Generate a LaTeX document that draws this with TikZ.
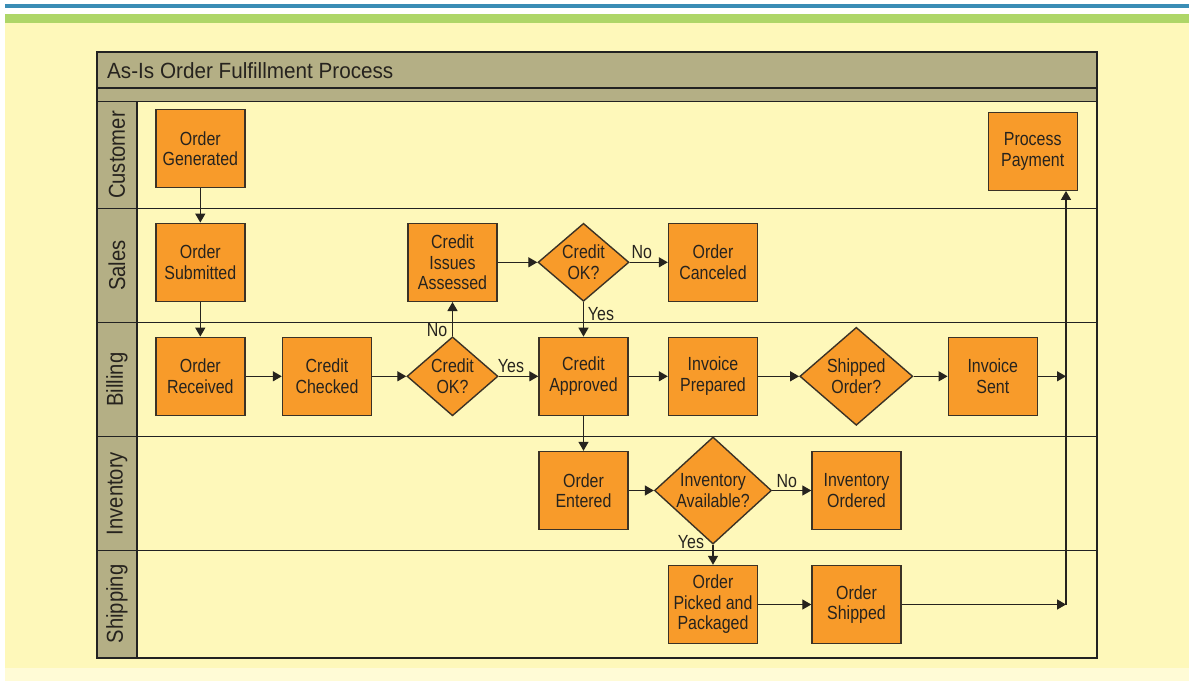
\documentclass[tikz,border=0pt]{standalone}
\usepackage{fontspec}
\setmainfont{Liberation Sans}[FakeStretch=0.84]
\newfontfamily\titlefont{Liberation Sans}[FakeStretch=0.94]
\newfontfamily\lanefont{Liberation Sans}[FakeStretch=0.88]
\usetikzlibrary{arrows.meta,shapes.geometric}

\definecolor{stripeblue}{HTML}{3A8DB5}
\definecolor{stripegreen}{HTML}{AED668}
\definecolor{paper}{HTML}{FEF8BA}
\definecolor{paperlight}{HTML}{FFFBD6}
\definecolor{olive}{HTML}{B4AF85}
\definecolor{boxfill}{HTML}{F89B2A}
\definecolor{ink}{HTML}{26231E}
\definecolor{edgeclr}{HTML}{3B3226}
\definecolor{rule}{HTML}{222222}

\tikzset{
  task/.style={draw=edgeclr, line width=1.4pt, fill=boxfill,
    minimum width=89pt, minimum height=78pt, inner sep=0pt,
    align=center, text=ink, font=\fontsize{19}{20.5}\selectfont},
  decision/.style={diamond, draw=edgeclr, line width=1.4pt, fill=boxfill,
    inner sep=0pt, align=center, text=ink, font=\fontsize{19}{20.5}\selectfont},
  flow/.style={draw=ink, line width=1.3pt, -{Triangle[length=9pt,width=10pt]}},
  branch/.style={text=ink, inner sep=0pt, font=\fontsize{19}{20.5}\selectfont},
  lanelabel/.style={rotate=90, text=ink, inner sep=0pt,
    font=\lanefont\fontsize{23}{25}\selectfont},
  lanerule/.style={draw=rule, line width=1.6pt}
}

\begin{document}
\begin{tikzpicture}[x=1pt, y=-1pt]
\useasboundingbox (0,0) rectangle (1192,681);

% page background and header stripes
\fill[white] (0,0) rectangle (1192,681);
\fill[paper] (5,22.7) rectangle (1189,668);
\fill[paperlight] (5,668) rectangle (1189,681);
\fill[stripeblue] (5,4) rectangle (1189,8.3);
\fill[stripegreen] (5,13.7) rectangle (1189,22.7);

% pool frame
\fill[olive] (97,52) rectangle (1097,101.5);
\fill[paper] (97,101.5) rectangle (1097,658);
\fill[olive] (97,101.5) rectangle (137,658);
\draw[lanerule] (97,52) rectangle (1097,658);
\draw[lanerule] (97,88) -- (1097,88);
\draw[lanerule] (97,101.5) -- (1097,101.5);
\draw[lanerule] (137,101.5) -- (137,658);
\draw[lanerule] (97,208.5) -- (1097,208.5);
\draw[lanerule] (97,322.5) -- (1097,322.5);
\draw[lanerule] (97,436.5) -- (1097,436.5);
\draw[lanerule] (97,550.5) -- (1097,550.5);

\node[anchor=base west, inner sep=0pt, text=ink,
  font=\titlefont\fontsize{22}{24}\selectfont] (title) at (107,78.3)
  {As-Is Order Fulfillment Process};

% lane labels
\node[lanelabel] (lcust) at (117,155) {Customer};
\node[lanelabel] (lsales) at (117,265.5) {Sales};
\node[lanelabel] (lbill) at (117,379.5) {Billing};
\node[lanelabel] (linv) at (117,493.5) {Inventory};
\node[lanelabel] (lship) at (117,604) {Shipping};

% customer lane
\node[task] (gen) at (200.3,148.5) {Order\\Generated};
\node[task] (pay) at (1032.7,151.2) {Process\\Payment};

% sales lane
\node[task] (sub) at (200.3,262.3) {Order\\Submitted};
\node[task] (cia) at (452.5,262.3) {Credit\\Issues\\Assessed};
\node[decision, minimum width=91pt, minimum height=78pt] (sok) at (583.5,262.3) {Credit\\OK?};
\node[task] (canc) at (713,262.3) {Order\\Canceled};

% billing lane
\node[task] (rec) at (200.3,376.3) {Order\\Received};
\node[task] (chk) at (327,376.3) {Credit\\Checked};
\node[decision, minimum width=91pt, minimum height=79pt] (bok) at (452.5,376.3) {Credit\\OK?};
\node[task] (appr) at (583.5,376.3) {Credit\\Approved};
\node[task] (invp) at (713,376.3) {Invoice\\Prepared};
\node[decision, minimum width=113pt, minimum height=98pt] (shq) at (856.3,376.3) {Shipped\\Order?};
\node[task] (sent) at (992.8,376.3) {Invoice\\Sent};

% inventory lane
\node[task] (ent) at (583.5,490.5) {Order\\Entered};
\node[decision, minimum width=117pt, minimum height=101pt] (avail) at (713,490.5) {Inventory\\Available?};
\node[task] (iord) at (856.5,490.5) {Inventory\\Ordered};

% shipping lane
\node[task] (pick) at (713,604.5) {Order\\Picked and\\Packaged};
\node[task] (shpd) at (856.5,604.5) {Order\\Shipped};

% junction points on the payment return line
\coordinate (jship) at (1066,604.5);
\coordinate (jinv) at (1066,376.3);

% connectors
\draw[flow] (gen) -- (sub);
\draw[flow] (sub) -- (rec);
\draw[flow] (rec) -- (chk);
\draw[flow] (chk) -- (bok);
\draw[flow] (bok) -- (appr);
\draw[flow] (bok) -- (cia);
\draw[flow] (cia) -- (sok);
\draw[flow] (sok) -- (canc);
\draw[flow] (sok) -- (appr);
\draw[flow] (appr) -- (invp);
\draw[flow] (invp) -- (shq);
\draw[flow] (shq) -- (sent);
\draw[flow] (sent) -- (jinv);
\draw[flow] (appr) -- (ent);
\draw[flow] (ent) -- (avail);
\draw[flow] (avail) -- (iord);
\draw[flow] (avail) -- (pick);
\draw[flow] (pick) -- (shpd);
\draw[flow] (shpd) -- (jship);
\draw[flow] (jship) -- (jship |- pay.south);

% branch labels
\node[branch] (nosok) at (641.7,252) {No};
\node[branch] (yessok) at (601,314) {Yes};
\node[branch] (nobok) at (437,330.5) {No};
\node[branch] (yesbok) at (511,366.3) {Yes};
\node[branch] (noavail) at (786.7,481.2) {No};
\node[branch] (yesavail) at (691,542.3) {Yes};
\end{tikzpicture}
\end{document}
